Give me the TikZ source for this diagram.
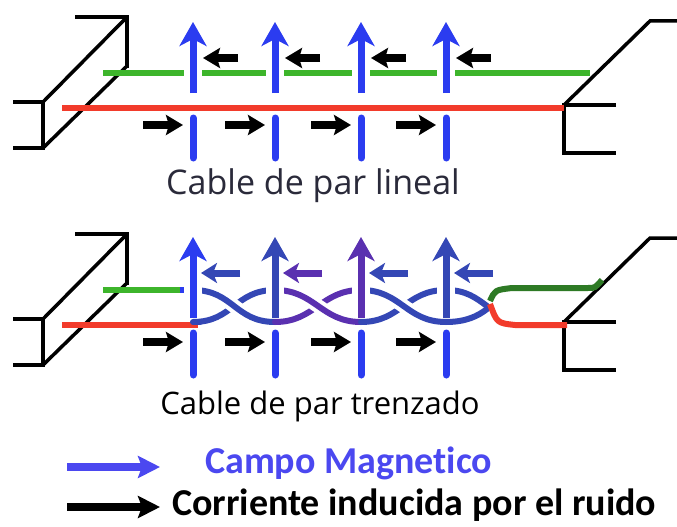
\documentclass[tikz,border=0pt]{standalone}
\usepackage{fontspec}
\setmainfont{Open Sans}
\newfontfamily\leyendafont[Ligatures=NoCommon]{Carlito}
\usetikzlibrary{arrows.meta,positioning,calc}

\definecolor{campo}{HTML}{2B3CF0}
\definecolor{trenza}{HTML}{3447B5}
\definecolor{trenzm}{HTML}{5A30B0}
\definecolor{verde}{HTML}{3DB52B}
\definecolor{verdeosc}{HTML}{2E7A25}
\definecolor{rojo}{HTML}{F23B2B}
\definecolor{texto}{HTML}{2A2A3A}
\definecolor{leyenda}{HTML}{4B48F0}

\tikzset{
  soporte/.style={line width=3.5pt},
  cable/.style={line width=6pt},
  par/.style={line width=6pt, line cap=round},
  flechacampo/.style={line width=7pt, -{Stealth[length=24pt,width=27pt,inset=7pt]}},
  tramo/.style={line width=7pt, line cap=round, campo},
  ruido/.style={line width=7.5pt, black, -{Stealth[length=17pt,width=20pt,inset=3pt]}},
  hueco/.style={white, line width=18pt},
  rotulo/.style={inner sep=0pt},
  leyendatxt/.style={font=\leyendafont\bfseries\fontsize{38}{42}\selectfont, anchor=west, inner sep=0pt}
}

\begin{document}
\begin{tikzpicture}[x=1pt,y=-1pt]
  \useasboundingbox[fill=white] (0,0) rectangle (677,527);

  % soportes de los dos cables
  \foreach \dy in {0,217}{
    \begin{scope}[yshift=-\dy pt]
      \draw[soporte] (75,17) -- (127,17) -- (127,68);
      \draw[soporte] (127,17) -- (43,102);
      \draw[soporte] (13,102) -- (43,102) -- (43,148) -- (13,148);
      \draw[soporte] (43,148) -- (127,66);
      \draw[soporte] (677,21) -- (650,21) -- (564,105);
      \draw[soporte] (616,105) -- (564,105) -- (564,153) -- (616,153);
    \end{scope}
  }

  % par lineal
  \draw[cable,verde] (103,73) -- (590,73);
  \draw[cable,rojo] (62,108) -- (564,108);
  \foreach \x in {193,275,361,446}{
    \draw[hueco] (\x,64) -- (\x,82);
    \draw[flechacampo,campo] (\x,93) -- (\x,22);
    \draw[tramo] (\x,118) -- (\x,158);
    \draw[ruido] (\x+45,58) -- (\x+10,58);
    \draw[ruido] (\x-50,125) -- (\x-10,125);
  }
  \node[rotulo,texto,font=\fontsize{34}{38}\selectfont] (capLineal) at (313,186) {Cable de par lineal};

  % par trenzado
  \draw[cable,verde] (103,290) -- (181,290);
  \draw[cable,campo] (180,290) -- (190,290);
  \draw[cable,rojo] (62,325) -- (198,325);
  \draw[par,trenza] (198,322) -- (200,322);
  \foreach \xa/\xb/\col in {193/275/trenza,275/361/trenzm,361/446/trenza}{
    \draw[par,\col] (\xa,322) .. controls (\xa+40,322) and (\xb-40,290) .. (\xb,290);
    \draw[par,\col,preaction={draw=white,line width=14pt}]
      (\xa,290) .. controls (\xa+40,290) and (\xb-40,322) .. (\xb,322);
  }
  \draw[par,trenza] (446,322) .. controls (466,322) and (478,316) .. (487,309);
  \draw[par,trenza] (446,290) .. controls (466,290) and (476,298) .. (487,306);
  \draw[cable,verdeosc] (490,301) .. controls (495,290) .. (512,288) -- (588,288) .. controls (595,288) .. (602,280);
  \draw[cable,rojo] (490,304) .. controls (497,323) .. (515,325) -- (567,325);
  \foreach \x/\cf/\ci in {193/campo/trenza,275/trenza/trenzm,361/trenzm/trenza,446/trenza/trenza}{
    \draw[hueco] (\x,281) -- (\x,299);
    \draw[flechacampo,\cf] (\x,318) -- (\x,237);
    \draw[tramo] (\x,333) -- (\x,375);
    \draw[flechacampo,\ci,-{Stealth[length=16pt,width=20pt,inset=4pt]}] (\x+47,273) -- (\x+8,273);
    \draw[ruido] (\x-50,342) -- (\x-10,342);
  }
  \node[rotulo,black,font=\fontsize{31}{36}\selectfont] (capTrenzado) at (320,406) {Cable de par trenzado};

  % leyenda
  \node[leyendatxt, leyenda] (txtCampo) at (205,463) {Campo Magnetico};
  \node[leyendatxt, black] (txtRuido) at (172,505) {Corriente inducida por el ruido};
  \coordinate (campoIni) at (67,467);
  \coordinate (ruidoIni) at (67,507);
  \draw[line width=8pt, leyenda, -{Stealth[length=22pt,width=22pt,inset=4pt]}] (campoIni) -- ++(93,0);
  \draw[line width=8pt, black, -{Stealth[length=22pt,width=22pt,inset=4pt]}] (ruidoIni) -- ++(93,0);
\end{tikzpicture}
\end{document}
